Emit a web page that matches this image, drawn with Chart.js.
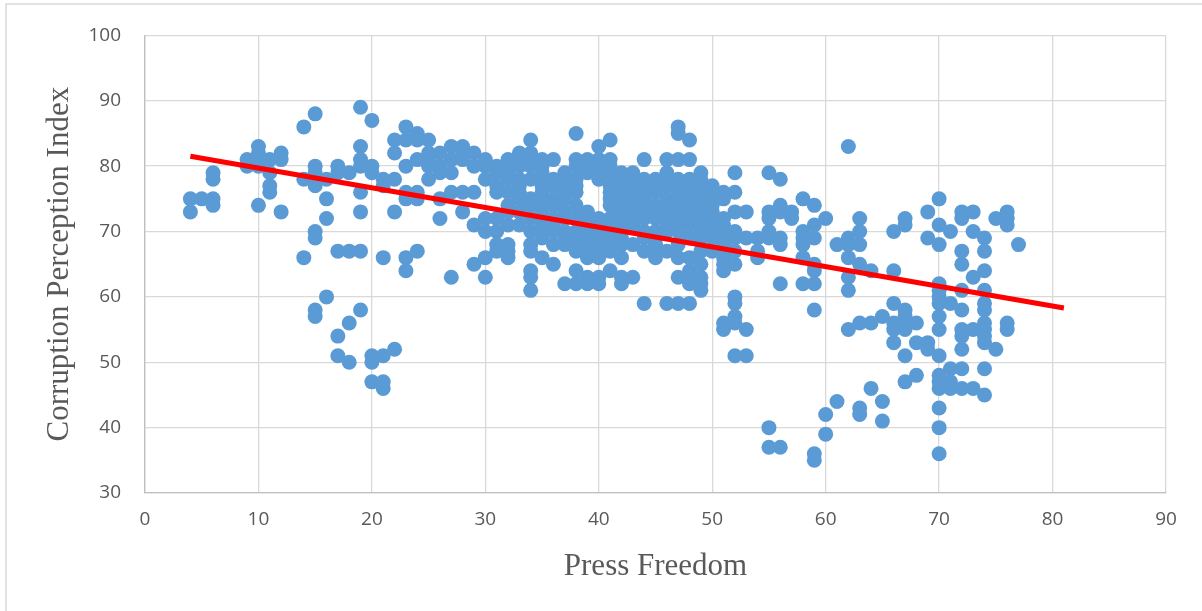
<!DOCTYPE html>
<html>
<head>
<meta charset="utf-8">
<script src="https://cdn.jsdelivr.net/npm/chart.js@4/dist/chart.umd.min.js"></script>
<style>
  html, body { margin:0; padding:0; background:#fff; }
  #wrap { width:1202px; height:611px; position:relative; }
</style>
</head>
<body>
<div id="wrap"><canvas id="scatter" width="1202" height="611"></canvas></div>
<script>
// press freedom score (x) and the corruption index values seen at that score
const pressScores = [4, 5, 6, 9, 10, 11, 12, 14, 15, 16, 17, 18, 19, 20, 21, 22, 23, 24, 25, 26, 27, 28, 29, 30,
    31, 32, 33, 34, 35, 36, 37, 38, 39, 40, 41, 42, 43, 44, 45, 46, 47, 48, 49, 50, 51, 52, 53, 54, 55, 56, 57,
    58, 59, 60, 61, 62, 63, 64, 65, 66, 67, 68, 69, 70, 71, 72, 73, 74, 75, 76, 77];
const cpiValues = [
    [75, 73], [75], [79, 78, 75, 74], [81, 80], [83, 82, 81, 80, 74], [81, 79, 77, 76], [82, 81, 73],
    [86, 78, 66], [88, 80, 79, 77, 70, 69, 58, 57], [78, 75, 72, 60], [80, 79, 67, 54, 51], [79, 67, 56, 50],
    [89, 83, 81, 80, 76, 73, 67, 58], [87, 80, 79, 51, 50, 47], [78, 77, 66, 51, 47, 46], [84, 82, 78, 73, 52],
    [86, 84, 80, 76, 75, 66, 64], [85, 84, 81, 76, 75, 67], [84, 82, 81, 80, 78], [82, 80, 79, 75, 72],
    [83, 81, 79, 76, 63], [83, 82, 81, 76, 73], [82, 80, 76, 71, 65], [81, 80, 78, 72, 70, 66, 63],
    [80, 79, 77, 76, 72, 70, 68, 67], [81, 80, 79, 78, 76, 74, 73, 71, 68, 67, 66],
    [82, 81, 80, 78, 77, 76, 75, 73, 71], [84, 82, 81, 80, 78, 75, 74, 72, 70, 68, 67, 64, 63, 61],
    [81, 80, 79, 77, 76, 75, 74, 73, 71, 70, 69, 66], [81, 78, 77, 75, 74, 72, 71, 70, 68, 65],
    [79, 78, 77, 76, 75, 73, 72, 70, 69, 68, 62], [85, 81, 80, 78, 77, 76, 74, 72, 70, 69, 68, 67, 64, 62],
    [81, 80, 79, 73, 72, 71, 70, 69, 68, 67, 66, 63, 62], [83, 81, 80, 79, 78, 72, 71, 70, 69, 68, 67, 66, 63, 62],
    [84, 81, 80, 79, 77, 76, 75, 74, 72, 71, 70, 69, 68, 67, 64],
    [79, 78, 77, 76, 75, 74, 73, 72, 71, 70, 69, 68, 66, 63, 62], [79, 78, 77, 76, 75, 74, 73, 72, 71, 68, 63],
    [81, 78, 77, 76, 75, 74, 73, 72, 70, 69, 67, 59], [78, 77, 76, 74, 73, 72, 70, 69, 68, 67, 66],
    [81, 79, 78, 77, 75, 74, 73, 72, 71, 70, 67, 59],
    [86, 85, 81, 78, 77, 76, 75, 74, 73, 72, 71, 70, 68, 66, 63, 59],
    [84, 81, 78, 77, 76, 75, 74, 73, 72, 71, 69, 66, 64, 63, 62, 59],
    [79, 78, 77, 76, 75, 74, 73, 72, 71, 70, 69, 67, 65, 63, 62, 61], [77, 76, 75, 74, 73, 72, 71, 70, 69, 67],
    [76, 75, 72, 71, 70, 69, 68, 66, 65, 64, 56, 55], [79, 76, 73, 70, 69, 67, 65, 60, 59, 57, 56, 51],
    [73, 69, 55, 51], [69, 67, 66], [79, 73, 72, 70, 69, 40, 37], [78, 74, 73, 69, 68, 62, 37], [73, 72],
    [75, 70, 69, 68, 66, 62], [74, 71, 69, 65, 64, 62, 58, 36, 35], [72, 42, 39], [68, 44],
    [83, 69, 68, 66, 63, 61, 55], [72, 70, 68, 65, 56, 43, 42], [64, 56, 46], [57, 44, 41],
    [70, 64, 59, 56, 55, 53], [72, 71, 58, 57, 56, 55, 51, 47], [56, 53, 48], [73, 69, 53, 52],
    [75, 71, 68, 62, 61, 60, 59, 57, 55, 51, 48, 47, 46, 43, 40, 36], [70, 59, 49, 47, 46],
    [73, 72, 67, 65, 61, 58, 55, 54, 52, 49, 46], [73, 70, 63, 55, 46],
    [69, 67, 64, 61, 59, 58, 56, 55, 54, 53, 49, 45], [72, 52], [73, 72, 71, 56, 55], [68]
];
// linear trend line end points as drawn
const trendX = [4, 81];
const trendY = [81.5, 58.3];

const points = [];
pressScores.forEach((x, i) => cpiValues[i].forEach(y => points.push({ x: x, y: y })));
const trend = trendX.map((x, i) => ({ x: x, y: trendY[i] }));

const tickFont = { family: 'Open Sans', size: 19 };
const titleFont = { family: 'Liberation Serif', size: 31 };

const frame = {
    id: 'frame',
    beforeDraw(chart) {
        const ctx = chart.ctx, a = chart.chartArea;
        ctx.save();
        ctx.strokeStyle = '#d9d9d9';
        ctx.lineWidth = 1.5;
        ctx.strokeRect(6, 4, 1400, 800);
        ctx.restore();
    },
    afterDatasetsDraw() {}
};

new Chart(document.getElementById('scatter'), {
    type: 'scatter',
    data: {
        datasets: [
            { type: 'line', data: trend, borderColor: '#ff0000', borderWidth: 5, pointRadius: 0, fill: false, order: 0 },
            { data: points, backgroundColor: '#5b9bd5', borderColor: '#5b9bd5', borderWidth: 0, pointRadius: 7.5, order: 1 }
        ]
    },
    options: {
        responsive: false,
        animation: false,
        layout: { padding: { left: 0, top: 33, right: 36, bottom: 0 } },
        plugins: { legend: { display: false }, tooltip: { enabled: false } },
        scales: {
            x: {
                type: 'linear', min: 0, max: 90,
                ticks: { stepSize: 10, color: '#595959', font: tickFont, padding: 15 },
                grid: { color: '#d9d9d9', lineWidth: 1.3, drawTicks: false },
                border: { color: '#bfbfbf', width: 1.3 },
                title: { display: true, text: 'Press Freedom', color: '#595959', font: titleFont, padding: { top: 0, bottom: 26 } },
                afterFit(scale) { scale.height = 118; }
            },
            y: {
                type: 'linear', min: 30, max: 100,
                ticks: { stepSize: 10, color: '#595959', font: tickFont, padding: 24 },
                grid: { color: '#d9d9d9', lineWidth: 1.3, drawTicks: false },
                border: { color: '#bfbfbf', width: 1.3 },
                title: { display: true, text: 'Corruption Perception Index', color: '#595959', font: titleFont, padding: { top: 41, bottom: 0 } },
                afterFit(scale) { scale.width = 145; }
            }
        }
    },
    plugins: [frame]
});
</script>
</body>
</html>
